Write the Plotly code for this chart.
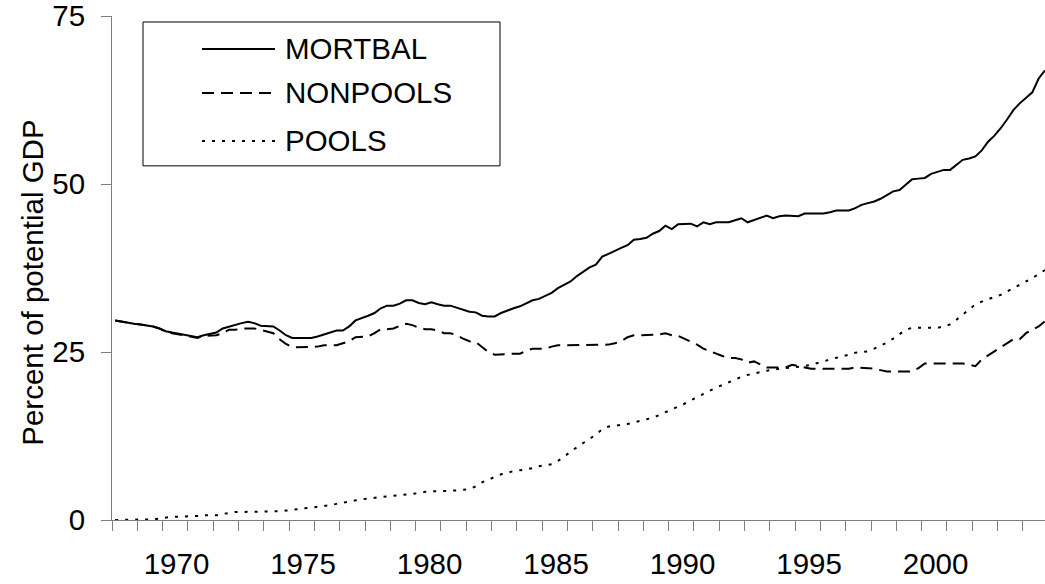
import plotly.graph_objects as go

years = list(range(1968, 2005))
quarter_pos = [0.125, 0.375, 0.625, 0.875]

mortbal = [
    29.7, 29.5, 29.4, 29.2,   # 1968
    29.1, 29.0, 28.8, 28.5,   # 1969
    28.1, 27.9, 27.7, 27.5,   # 1970
    27.3, 27.2, 27.5, 27.7,   # 1971
    27.9, 28.5, 28.8, 29.1,   # 1972
    29.3, 29.5, 29.3, 28.9,   # 1973
    28.9, 28.8, 28.2, 27.5,   # 1974
    27.1, 27.1, 27.1, 27.1,   # 1975
    27.3, 27.6, 28.0, 28.2,   # 1976
    28.2, 28.8, 29.7, 30.0,   # 1977
    30.4, 30.8, 31.5, 31.9,   # 1978
    31.9, 32.2, 32.7, 32.7,   # 1979
    32.3, 32.1, 32.4, 32.1,   # 1980
    31.9, 31.9, 31.6, 31.2,   # 1981
    31.0, 30.9, 30.4, 30.3,   # 1982
    30.3, 30.8, 31.2, 31.5,   # 1983
    31.8, 32.3, 32.7, 32.9,   # 1984
    33.3, 33.8, 34.5, 35.0,   # 1985
    35.5, 36.3, 37.0, 37.6,   # 1986
    38.0, 39.2, 39.6, 40.1,   # 1987
    40.5, 40.9, 41.7, 41.8,   # 1988
    42.0, 42.6, 43.0, 43.8,   # 1989
    43.3, 44.0, 44.1, 44.1,   # 1990
    43.7, 44.3, 44.0, 44.3,   # 1991
    44.3, 44.3, 44.6, 44.9,   # 1992
    44.3, 44.6, 44.9, 45.3,   # 1993
    44.9, 45.2, 45.3, 45.3,   # 1994
    45.2, 45.6, 45.6, 45.6,   # 1995
    45.6, 45.8, 46.05, 46.05, # 1996
    46.05, 46.4, 46.9, 47.15, # 1997
    47.4, 47.8, 48.4, 48.9,   # 1998
    49.1, 49.9, 50.7, 50.8,   # 1999
    50.9, 51.5, 51.8, 52.1,   # 2000
    52.1, 52.8, 53.6, 53.8,   # 2001
    54.1, 55.0, 56.3, 57.2,   # 2002
    58.3, 59.6, 61.0, 62.0,   # 2003
    62.8, 63.65, 65.7, 66.9,  # 2004
]

nonpools = [
    29.7, 29.5, 29.4, 29.2,   # 1968
    29.1, 29.0, 28.8, 28.5,   # 1969
    28.0, 27.8, 27.6, 27.4,   # 1970
    27.2, 27.1, 27.4, 27.5,   # 1971
    27.5, 27.8, 28.3, 28.3,   # 1972
    28.5, 28.5, 28.5, 28.3,   # 1973
    28.0, 27.8, 26.9, 26.2,   # 1974
    25.7, 25.7, 25.7, 25.7,   # 1975
    25.8, 26.0, 26.0, 26.0,   # 1976
    26.3, 26.6, 27.2, 27.2,   # 1977
    27.3, 27.8, 28.4, 28.4,   # 1978
    28.5, 28.9, 29.2, 29.0,   # 1979
    28.6, 28.4, 28.4, 28.2,   # 1980
    27.8, 27.8, 27.5, 27.0,   # 1981
    26.6, 26.5, 25.8, 25.0,   # 1982
    24.6, 24.6, 24.7, 24.75,  # 1983
    24.75, 25.2, 25.5, 25.5,  # 1984
    25.5, 25.8, 26.0, 26.0,   # 1985
    26.0, 26.0, 26.0, 26.0,   # 1986
    26.1, 26.1, 26.1, 26.3,   # 1987
    26.6, 27.2, 27.5, 27.5,   # 1988
    27.5, 27.5, 27.6, 27.8,   # 1989
    27.5, 27.4, 27.0, 26.6,   # 1990
    26.1, 25.5, 25.1, 24.7,   # 1991
    24.4, 24.1, 24.1, 23.9,   # 1992
    23.4, 23.6, 23.1, 22.7,   # 1993
    22.7, 22.7, 22.7, 23.1,   # 1994
    22.9, 22.7, 22.5, 22.5,   # 1995
    22.5, 22.5, 22.5, 22.5,   # 1996
    22.5, 22.7, 22.7, 22.6,   # 1997
    22.5, 22.3, 22.1, 22.1,   # 1998
    22.1, 22.1, 22.1, 22.6,   # 1999
    23.3, 23.3, 23.3, 23.3,   # 2000
    23.2, 23.3, 23.3, 23.1,   # 2001
    22.9, 23.9, 24.5, 25.1,   # 2002
    25.7, 26.3, 26.9, 26.9,   # 2003
    27.8, 28.3, 28.8, 29.6,   # 2004
]

pools = [
    0.0, 0.0, 0.0, 0.0,       # 1968
    0.0, 0.1, 0.1, 0.2,       # 1969
    0.4, 0.5, 0.5, 0.5,       # 1970
    0.5, 0.6, 0.7, 0.7,       # 1971
    0.7, 0.9, 1.1, 1.2,       # 1972
    1.2, 1.2, 1.3, 1.3,       # 1973
    1.3, 1.3, 1.3, 1.4,       # 1974
    1.5, 1.6, 1.7, 1.8,       # 1975
    2.0, 2.1, 2.2, 2.4,       # 1976
    2.6, 2.8, 3.0, 3.1,       # 1977
    3.2, 3.3, 3.3, 3.4,       # 1978
    3.5, 3.7, 3.8, 3.9,       # 1979
    4.0, 4.2, 4.3, 4.3,       # 1980
    4.3, 4.3, 4.4, 4.5,       # 1981
    4.6, 5.0, 5.6, 6.0,       # 1982
    6.4, 6.8, 7.0, 7.3,       # 1983
    7.4, 7.5, 7.7, 8.0,       # 1984
    8.1, 8.3, 8.8, 9.4,       # 1985
    10.2, 10.8, 11.4, 12.1,   # 1986
    12.7, 13.5, 13.9, 14.0,   # 1987
    14.1, 14.3, 14.5, 14.8,   # 1988
    15.0, 15.2, 15.6, 16.0,   # 1989
    16.4, 16.8, 17.3, 17.8,   # 1990
    18.3, 18.8, 19.3, 19.7,   # 1991
    20.1, 20.5, 21.0, 21.3,   # 1992
    21.6, 21.8, 22.0, 22.3,   # 1993
    22.4, 22.5, 22.6, 22.7,   # 1994
    22.7, 22.9, 23.1, 23.3,   # 1995
    23.6, 23.9, 24.1, 24.3,   # 1996
    24.6, 24.9, 25.0, 25.1,   # 1997
    25.5, 25.9, 26.4, 27.0,   # 1998
    27.7, 28.3, 28.6, 28.6,   # 1999
    28.6, 28.6, 28.6, 28.8,   # 2000
    29.1, 29.8, 30.6, 31.3,   # 2001
    32.1, 32.5, 32.9, 33.2,   # 2002
    33.5, 34.0, 34.5, 35.0,   # 2003
    35.4, 36.0, 36.6, 37.2,   # 2004
]

tick_years = [1970, 1975, 1980, 1985, 1990, 1995, 2000]
y_ticks = [0, 25, 50, 75]
series_names = ["MORTBAL", "NONPOOLS", "POOLS"]

x = [y + q for y in years for q in quarter_pos]

FONT = "Liberation Sans, Arial, sans-serif"
FS = 29.5
AXIS_GRAY = "#808080"
W, H = 1045, 584
ML, MR, MT, MB = 112, 0, 16, 63.5
PW, PH = W - ML - MR, H - MT - MB

dashes = ["solid", "12px,7px", "3px,7px"]
series = [mortbal, nonpools, pools]

fig = go.Figure()
for name, vals, dash in zip(series_names, series, dashes):
    fig.add_trace(go.Scatter(
        x=x, y=vals, mode="lines", name=name,
        line=dict(color="black", width=2, dash=dash),
        showlegend=False,
    ))

def px2paper_x(px):
    return (px - ML) / PW

def px2paper_y(py):
    return (H - MB - py) / PH

# manual legend (box, sample lines, labels)
shapes = [dict(type="rect", xref="paper", yref="paper",
               x0=px2paper_x(143), x1=px2paper_x(500),
               y0=px2paper_y(166), y1=px2paper_y(22),
               line=dict(color="black", width=1), fillcolor="white", layer="above")]
annotations = []
row_y = [49, 93, 141]
for name, dash, ry in zip(series_names, dashes, row_y):
    shapes.append(dict(type="line", xref="paper", yref="paper",
                       x0=px2paper_x(202), x1=px2paper_x(275),
                       y0=px2paper_y(ry), y1=px2paper_y(ry),
                       line=dict(color="black", width=2, dash=dash), layer="above"))
    annotations.append(dict(xref="paper", yref="paper", x=px2paper_x(283), y=px2paper_y(ry),
                            text=name, showarrow=False, xanchor="left", yanchor="middle",
                            font=dict(family=FONT, size=FS, color="black")))

annotations.append(dict(xref="paper", yref="paper", x=px2paper_x(33), y=px2paper_y(283),
                        text="Percent of potential GDP", textangle=-90, showarrow=False,
                        xanchor="center", yanchor="middle",
                        font=dict(family=FONT, size=FS, color="black")))

fig.update_layout(
    width=W, height=H,
    margin=dict(l=ML, r=MR, t=MT, b=MB, pad=0, autoexpand=False),
    paper_bgcolor="white", plot_bgcolor="white",
    font=dict(family=FONT, size=FS, color="black"),
    shapes=shapes, annotations=annotations,
    showlegend=False,
)
fig.update_xaxes(
    range=[1968, 2004.875], automargin=False,
    tickmode="array",
    tickvals=[t + 0.55 for t in tick_years],
    ticktext=[str(t) for t in tick_years],
    ticks="", ticklabelstandoff=18, ticklabeloverflow="allow",
    showline=True, linecolor=AXIS_GRAY, linewidth=1,
    showgrid=False, zeroline=False,
    tickfont=dict(family=FONT, size=FS, color="black"),
    minor=dict(tickmode="array", tickvals=years + [2005], ticks="outside",
               ticklen=10, tickcolor=AXIS_GRAY, tickwidth=1, showgrid=False),
)
fig.update_yaxes(
    range=[0, 75], automargin=False,
    tickmode="array", tickvals=y_ticks, ticktext=[str(v) for v in y_ticks],
    ticks="outside", ticklen=10, tickcolor=AXIS_GRAY, tickwidth=1,
    ticklabelstandoff=10, ticklabeloverflow="allow",
    showline=True, linecolor=AXIS_GRAY, linewidth=1,
    showgrid=False, zeroline=False,
    tickfont=dict(family=FONT, size=FS, color="black"),
)

fig.write_html("out.html", config={"displayModeBar": False},
               post_script="document.body.style.margin='0';")
